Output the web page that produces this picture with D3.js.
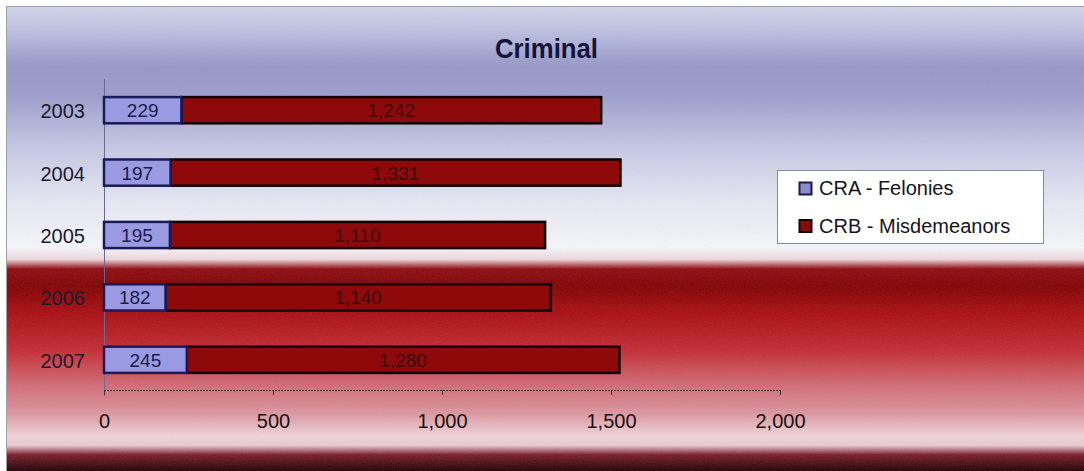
<!DOCTYPE html>
<html>
<head>
<meta charset="utf-8">
<script src="https://cdn.jsdelivr.net/npm/d3@7"></script>
<style>
html,body{margin:0;padding:0;background:#fff;}
svg{display:block;font-family:"Liberation Sans",Arial,sans-serif;}
</style>
</head>
<body>
<svg id="chart" width="1084" height="471"></svg>
<script>
const title = "Criminal";
const years = ["2003", "2004", "2005", "2006", "2007"];
const felonies = [229, 197, 195, 182, 245];
const misdemeanors = [1242, 1331, 1110, 1140, 1280];
const seriesNames = ["CRA - Felonies", "CRB - Misdemeanors"];
const xTicks = [0, 500, 1000, 1500, 2000];

const svg = d3.select("#chart");
const W = 1084, H = 471;

// background gradient
const defs = svg.append("defs");
const bg = defs.append("linearGradient").attr("id", "bg").attr("x1", 0).attr("y1", 0).attr("x2", 0).attr("y2", 1);
[
  [0.00, "#d2d5ec"], [0.04, "#c4c6e4"], [0.13, "#9597c8"], [0.19, "#9a9ccc"],
  [0.30, "#c4c6e4"], [0.42, "#e6e7f3"], [0.52, "#f6f6fb"], [0.545, "#eed6da"],
  [0.565, "#8f0b12"], [0.60, "#7f0000"], [0.66, "#a80c10"], [0.74, "#c32a32"],
  [0.81, "#d06570"], [0.88, "#dd9aa3"], [0.925, "#f0d4da"], [0.945, "#e9c9d0"],
  [0.965, "#7a1c2a"], [1.00, "#1e0004"]
].forEach(([o, c]) => bg.append("stop").attr("offset", o).attr("stop-color", c));

const noise = defs.append("filter").attr("id", "grain").attr("x", 0).attr("y", 0).attr("width", 1).attr("height", 1);
noise.append("feTurbulence").attr("type", "fractalNoise").attr("baseFrequency", 0.9).attr("numOctaves", 2).attr("seed", 3).attr("result", "n");
noise.append("feColorMatrix").attr("in", "n").attr("type", "matrix")
  .attr("values", "0 0 0 0 0.5  0 0 0 0 0.5  0 0 0 0 0.5  0 0 0 0.12 0").attr("result", "g");
noise.append("feComposite").attr("in", "g").attr("in2", "SourceGraphic").attr("operator", "in");

svg.append("rect").attr("x", 6).attr("y", 6).attr("width", W - 6).attr("height", H - 6).attr("fill", "url(#bg)");
svg.append("rect").attr("x", 6).attr("y", 6).attr("width", W - 6).attr("height", H - 6).attr("fill", "url(#bg)").attr("filter", "url(#grain)");
svg.append("line").attr("x1", 6).attr("x2", W).attr("y1", 6.5).attr("y2", 6.5).attr("stroke", "#a0a0a8");
svg.append("line").attr("x1", 6.5).attr("x2", 6.5).attr("y1", 6).attr("y2", H).attr("stroke", "#a0a0a8");

// title
svg.append("text").attr("x", 546.5).attr("y", 58).attr("text-anchor", "middle")
  .attr("font-size", 28).attr("font-weight", "bold").attr("fill", "#14143a")
  .attr("textLength", 103).attr("lengthAdjust", "spacingAndGlyphs").text(title);

// scales
const x = d3.scaleLinear().domain([0, 2000]).range([104, 780]);
const y = d3.scaleBand().domain(years).range([79, 391]).paddingInner(0.58).paddingOuter(0.29);

// y axis
const yAxis = svg.append("g").attr("transform", "translate(104,0)")
  .call(d3.axisLeft(y).tickSize(0).tickPadding(19));
yAxis.select(".domain").attr("stroke", "#6a6a90").attr("stroke-width", 1).attr("d", "M0.5,79V396");
yAxis.selectAll("text").attr("font-size", 20).attr("dy", "0.4em").attr("fill", "#1a1a30")
  .attr("font-family", "Liberation Sans, Arial, sans-serif");

// x axis
const xAxis = svg.append("g").attr("transform", "translate(0,390)")
  .call(d3.axisBottom(x).tickValues(xTicks).tickSize(5).tickPadding(19).tickFormat(d3.format(",")));
xAxis.select(".domain").attr("stroke", "#4a3038").attr("stroke-dasharray", "2,1").attr("d", "M104,0.5H780");
xAxis.selectAll(".tick line").attr("stroke", "#4a3038");
xAxis.selectAll("text").attr("font-size", 20).attr("fill", "#1a1010")
  .attr("font-family", "Liberation Sans, Arial, sans-serif");

// bars
const rows = years.map((yr, i) => ({ yr, a: felonies[i], b: misdemeanors[i] }));
const g = svg.append("g");
const bh = y.bandwidth();
g.selectAll(".b").data(rows).join("rect").attr("class", "b")
  .attr("x", d => x(d.a)).attr("y", d => y(d.yr)).attr("width", d => x(d.a + d.b) - x(d.a)).attr("height", bh)
  .attr("fill", "#8e0a0a").attr("stroke", "#120000").attr("stroke-width", 2.5);
g.selectAll(".a").data(rows).join("rect").attr("class", "a")
  .attr("x", d => x(0)).attr("y", d => y(d.yr)).attr("width", d => x(d.a) - x(0)).attr("height", bh)
  .attr("fill", "#9a9ae2").attr("stroke", "#1a1a5a").attr("stroke-width", 2.5);

const fmt = d3.format(",");
g.selectAll(".la").data(rows).join("text").attr("class", "la")
  .attr("x", d => (x(0) + x(d.a)) / 2).attr("y", d => y(d.yr) + bh / 2 + 7)
  .attr("text-anchor", "middle").attr("font-size", 19).attr("fill", "#1a1a4a").text(d => fmt(d.a));
g.selectAll(".lb").data(rows).join("text").attr("class", "lb")
  .attr("x", d => (x(d.a) + x(d.a + d.b)) / 2).attr("y", d => y(d.yr) + bh / 2 + 7)
  .attr("text-anchor", "middle").attr("font-size", 19).attr("fill", "#3a0606").text(d => fmt(d.b));

// legend
const lg = svg.append("g").attr("transform", "translate(777,170)");
lg.append("rect").attr("x", 0.5).attr("y", 0.5).attr("width", 266).attr("height", 73)
  .attr("fill", "#ffffff").attr("stroke", "#8a8a96");
const swFill = ["#8a8acc", "#8b0a0a"], swStroke = ["#1a1a50", "#1a0000"];
seriesNames.forEach((n, i) => {
  const base = 25 + i * 37.5;
  lg.append("rect").attr("x", 22.5).attr("y", base - 12.5).attr("width", 12).attr("height", 12)
    .attr("fill", swFill[i]).attr("stroke", swStroke[i]).attr("stroke-width", 2);
  lg.append("text").attr("x", 42).attr("y", base).attr("font-size", 20).attr("fill", "#141420").text(n);
});
</script>
</body>
</html>
